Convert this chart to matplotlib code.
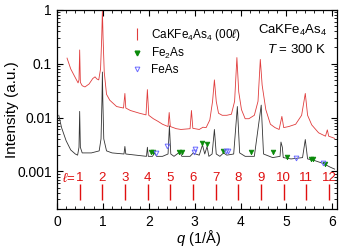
import matplotlib
matplotlib.use("Agg")
import matplotlib.pyplot as plt
from matplotlib.ticker import LogLocator, MultipleLocator, NullFormatter, FixedFormatter, FixedLocator

plt.rcParams['font.family'] = ['Liberation Sans', 'DejaVu Sans']
plt.rcParams['mathtext.fontset'] = 'custom'
plt.rcParams['mathtext.rm'] = 'Liberation Sans'
plt.rcParams['mathtext.it'] = 'Liberation Sans:italic'

# Red (upper) pattern
q_red = [0.22, 0.30, 0.40, 0.46, 0.48, 0.495, 0.51, 0.55, 0.61, 0.70, 0.78, 0.83, 0.87, 0.91,
         0.95, 0.975, 0.99, 1.005, 1.03, 1.08, 1.15, 1.30, 1.45, 1.48, 1.50, 1.60, 1.80, 1.94,
         1.97, 2.00, 2.10, 2.20, 2.30, 2.42, 2.445, 2.47, 2.60, 2.70, 2.90, 2.93, 2.96, 3.10,
         3.18, 3.25, 3.33, 3.39, 3.43, 3.47, 3.52, 3.60, 3.70, 3.80, 3.87, 3.92, 3.96, 4.02,
         4.10, 4.18, 4.30, 4.38, 4.43, 4.47, 4.55, 4.65, 4.75, 4.84, 4.90, 4.94, 5.05, 5.20,
         5.33, 5.41, 5.46, 5.55, 5.70, 5.85, 5.89, 5.92, 6.05]
I_red = [0.127, 0.08, 0.055, 0.044, 0.05, 0.18, 0.045, 0.039, 0.037, 0.042, 0.053, 0.057, 0.052, 0.050,
         0.08, 0.3, 1.0, 0.3, 0.07, 0.027, 0.021, 0.016, 0.015, 0.028, 0.015, 0.0135, 0.012, 0.0112,
         0.033, 0.011, 0.0095, 0.0085, 0.0075, 0.0068, 0.0124, 0.0068, 0.0062, 0.006, 0.0062, 0.0135, 0.0063, 0.006,
         0.0066, 0.0065, 0.009, 0.02, 0.05, 0.02, 0.012, 0.011, 0.011, 0.0115, 0.02, 0.13, 0.03, 0.014,
         0.0095, 0.0095, 0.011, 0.02, 0.12, 0.04, 0.014, 0.0075, 0.0065, 0.006, 0.0105, 0.0065, 0.0068, 0.0075,
         0.011, 0.028, 0.011, 0.0073, 0.0052, 0.0045, 0.0059, 0.0045, 0.0041]

# Black (lower) pattern
q_blk = [0.04, 0.10, 0.20, 0.30, 0.40, 0.45, 0.48, 0.495, 0.51, 0.55, 0.75, 0.92, 0.96, 0.98, 0.99, 1.00,
         1.02, 1.08, 1.20, 1.46, 1.48, 1.50, 1.95, 1.97, 1.99, 2.08, 2.13, 2.17, 2.30, 2.42, 2.45, 2.48,
         2.55, 2.68, 2.72, 2.90, 2.97, 3.02, 3.10, 3.17, 3.22, 3.27, 3.31, 3.38, 3.43, 3.47, 3.55, 3.63,
         3.70, 3.85, 3.93, 3.98, 4.10, 4.30, 4.45, 4.50, 4.70, 4.86, 4.88, 4.91, 4.93, 5.10, 5.35, 5.41,
         5.46, 5.60, 5.80, 5.95, 6.05]
I_blk = [0.011, 0.0065, 0.0037, 0.0025, 0.0021, 0.002, 0.0028, 0.013, 0.0028, 0.0022, 0.0022, 0.0024, 0.004, 0.02, 0.07, 0.02,
         0.004, 0.0024, 0.0022, 0.0021, 0.0029, 0.0021, 0.0019, 0.0028, 0.0019, 0.0019, 0.0022, 0.0019, 0.0019, 0.0021, 0.007, 0.0021,
         0.0019, 0.0023, 0.0019, 0.0019, 0.0022, 0.0021, 0.002, 0.0031, 0.0021, 0.0029, 0.0019, 0.0021, 0.006, 0.0021, 0.0019, 0.0022,
         0.002, 0.0021, 0.016, 0.0022, 0.0019, 0.0019, 0.017, 0.0021, 0.0018, 0.0019, 0.0035, 0.0028, 0.0018, 0.0017, 0.0018, 0.0039,
         0.0017, 0.0016, 0.0014, 0.0012, 0.0011]

# Impurity markers
q_fe2as = [2.04, 2.09, 2.66, 2.72, 3.17, 3.26, 3.61, 4.22, 4.70, 5.02, 5.53, 5.57, 5.83]
I_fe2as = [0.0023, 0.0023, 0.0023, 0.0023, 0.0034, 0.0032, 0.0024, 0.0023, 0.0023, 0.00185, 0.0017, 0.0017, 0.00137]
q_feas = [2.15, 2.40, 2.98, 3.01, 3.68, 3.73, 5.21, 5.79]
I_feas = [0.0022, 0.003, 0.0023, 0.0026, 0.0024, 0.0024, 0.0018, 0.00145]

# (00l) reflections
ell = [1, 2, 3, 4, 5, 6, 7, 8, 9, 10, 11, 12]
q_ell = [0.494 * l for l in ell]

red = '#e03c3c'
lred = '#e01010'
fig = plt.figure(figsize=(3.39, 2.47), dpi=100)
ax = fig.add_axes([0.168, 0.154, 0.826, 0.806])

ax.plot(q_red, I_red, color=red, lw=0.6)
ax.plot(q_blk, I_blk, color='#333333', lw=0.6)

ax.vlines(q_ell, 2.9e-4, 5.7e-4, color=lred, lw=1.0)
for q, l in zip(q_ell, ell):
    ax.text(q, 7.4e-4, str(l), color=lred, fontsize=9.5, ha='center', va='center')
ax.annotate('$\\ell$=', xy=(q_ell[0], 7.4e-4), xytext=(-3, 0), textcoords='offset points',
            color=lred, fontsize=9.5, ha='right', va='center')

ax.plot(q_fe2as, I_fe2as, 'v', color='#0a8a0a', ms=3.4, mew=0.5, ls='none')
ax.plot(q_feas, I_feas, 'v', mfc='none', mec='#6a6aff', ms=3.4, mew=0.7, ls='none')

# legend handles
h1, = ax.plot([], [], '|', color=red, ms=8, mew=0.8, ls='none')
h2, = ax.plot([], [], 'v', color='#0a8a0a', ms=3.4, ls='none')
h3, = ax.plot([], [], 'v', mfc='none', mec='#6a6aff', ms=3.4, mew=0.7, ls='none')
ax.legend([h1, h2, h3], ['CaKFe$_4$As$_4$ (00$\\ell$)', 'Fe$_2$As', 'FeAs'],
          loc='upper left', bbox_to_anchor=(0.24, 0.95), frameon=False, fontsize=8.5,
          handlelength=1.0, handletextpad=0.7, labelspacing=0.25, borderaxespad=0.2)

ax.text(0.965, 0.895, 'CaKFe$_4$As$_4$', transform=ax.transAxes, ha='right', va='center', fontsize=9.5)
ax.text(0.965, 0.80, '$T$ = 300 K', transform=ax.transAxes, ha='right', va='center', fontsize=9.5)

ax.set_yscale('log')
ax.set_xlim(0, 6.1)
ax.set_ylim(2.0e-4, 1)
ax.yaxis.set_major_locator(FixedLocator([1e-3, 1e-2, 1e-1, 1]))
ax.yaxis.set_major_formatter(FixedFormatter(['0.001', '0.01', '0.1', '1']))
ax.yaxis.set_minor_locator(LogLocator(base=10, subs=range(2, 10), numticks=20))
ax.yaxis.set_minor_formatter(NullFormatter())
ax.xaxis.set_major_locator(MultipleLocator(1))
ax.xaxis.set_minor_locator(MultipleLocator(0.2))
ax.tick_params(which='both', direction='in', top=True, right=True, labelsize=10)
ax.tick_params(which='major', length=4, width=0.8)
ax.tick_params(which='minor', length=2, width=0.6)
ax.tick_params(axis='x', which='major', pad=4)
for s in ax.spines.values():
    s.set_linewidth(0.9)

ax.set_xlabel('$q$ (1/Å)', fontsize=10.5, va='center')
ax.xaxis.set_label_coords(0.505, -0.148)
ax.set_ylabel('Intensity (a.u.)', fontsize=11, va='center')
ax.yaxis.set_label_coords(-0.16, 0.5)

fig.savefig('out.png', dpi=100)
